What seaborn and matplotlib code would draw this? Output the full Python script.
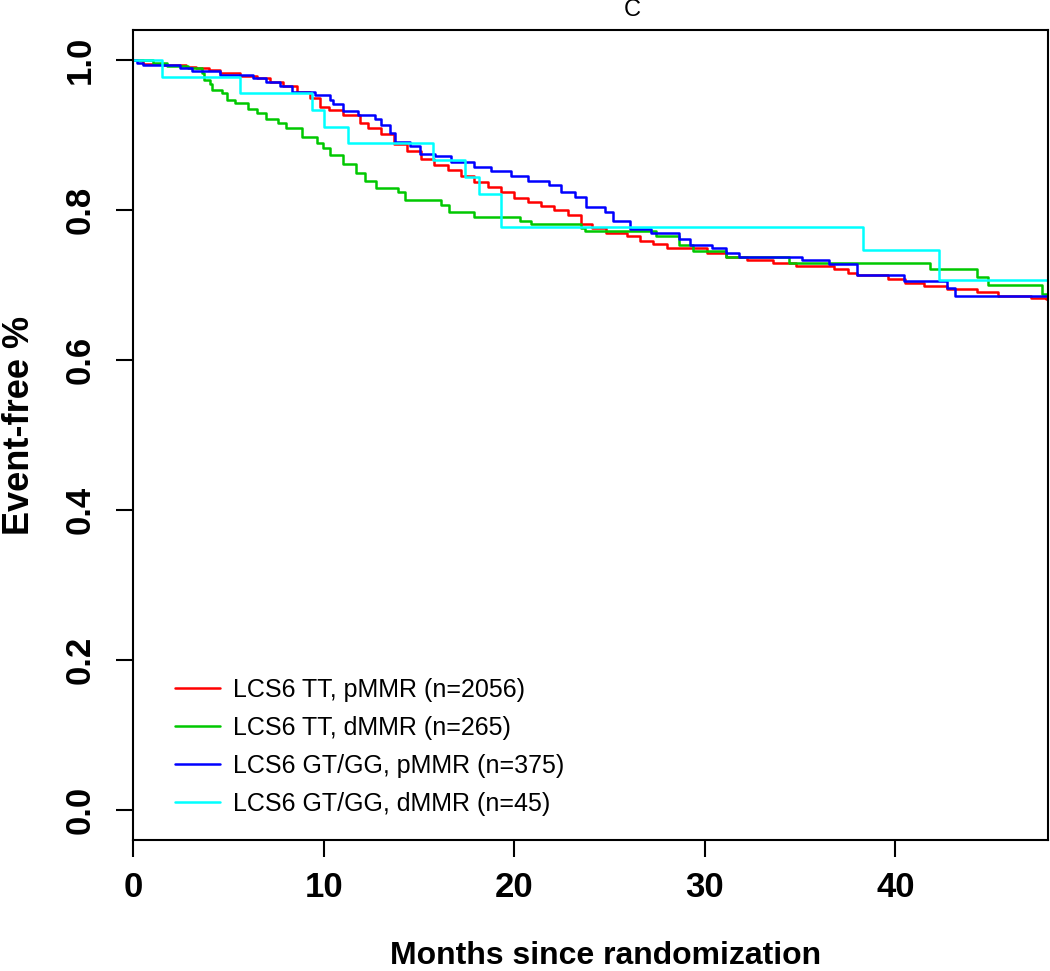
#! /usr/bin/env python3

import numpy as np
import pandas as pd
import seaborn as sns, matplotlib.pyplot as plt

sns.set_style("ticks")
plt.rcParams['font.family'] = ['Liberation Sans', 'DejaVu Sans']
plt.rcParams['text.color'] = 'black'
plt.rcParams['axes.labelcolor'] = 'black'

# step curves (months, fraction event-free)
red_t = [0, 0.54, 1.6, 2.8, 3.3, 4.0, 4.56, 5.6, 6.48, 7.18, 7.88, 8.58, 9.28, 9.8, 10.3,
         11.0, 11.9, 12.33, 13.0, 13.7, 14.4, 15.1, 15.8, 16.5, 17.2, 17.9, 18.6, 19.3,
         20.0, 20.7, 21.4, 22.1, 22.8, 23.5, 24.1, 24.8, 25.9, 26.6, 27.3, 28.0, 30.1,
         31.1, 32.2, 33.6, 34.8, 36.0, 36.8, 37.5, 38.0, 39.6, 40.5, 41.5, 42.7, 44.3,
         45.4, 47.1, 47.9, 48]
red_s = [1.0, 0.995, 0.993, 0.991, 0.989, 0.987, 0.983, 0.979, 0.976, 0.971, 0.965, 0.957,
         0.949, 0.938, 0.933, 0.927, 0.916, 0.910, 0.901, 0.888, 0.879, 0.868, 0.860, 0.854,
         0.846, 0.837, 0.831, 0.824, 0.816, 0.811, 0.806, 0.800, 0.793, 0.782, 0.776, 0.769,
         0.765, 0.759, 0.755, 0.750, 0.743, 0.738, 0.734, 0.729, 0.726, 0.725, 0.721, 0.716,
         0.713, 0.708, 0.703, 0.699, 0.695, 0.691, 0.686, 0.683, 0.681, 0.681]

green_t = [0, 1.05, 1.77, 2.9, 3.6, 3.72, 4.04, 4.12, 4.65, 4.91, 5.35, 6.04, 6.48, 7.0,
           7.62, 8.05, 8.84, 9.63, 9.97, 10.32, 11.02, 11.72, 12.16, 12.77, 13.9, 14.26,
           16.18, 16.6, 17.9, 20.28, 20.9, 23.5, 23.7, 27.45, 28.67, 29.37, 31.1, 34.4,
           41.8, 44.3, 44.86, 47.7, 48]
green_s = [1.0, 0.996, 0.992, 0.990, 0.983, 0.973, 0.968, 0.960, 0.956, 0.947, 0.943, 0.935,
           0.930, 0.921, 0.916, 0.909, 0.898, 0.889, 0.883, 0.873, 0.861, 0.850, 0.839, 0.830,
           0.824, 0.813, 0.807, 0.798, 0.791, 0.786, 0.781, 0.776, 0.7725, 0.765, 0.754,
           0.745, 0.737, 0.729, 0.721, 0.711, 0.700, 0.688, 0.688]

blue_t = [0, 0.19, 0.54, 2.46, 3.07, 4.56, 6.3, 7.0, 7.7, 8.32, 9.54, 10.32, 10.5, 11.0,
          11.8, 12.68, 13.0, 13.47, 13.73, 14.52, 15.04, 15.83, 16.7, 17.9, 18.8, 19.85,
          20.7, 21.8, 22.47, 23.17, 23.78, 24.74, 25.2, 26.05, 27.2, 28.67, 29.2, 30.4,
          31.1, 31.8, 35.1, 36.5, 38.0, 40.46, 42.7, 43.1, 48]
blue_s = [1.0, 0.9965, 0.993, 0.989, 0.985, 0.980, 0.976, 0.971, 0.966, 0.958, 0.954, 0.947,
          0.941, 0.932, 0.927, 0.921, 0.914, 0.903, 0.891, 0.886, 0.875, 0.872, 0.864, 0.858,
          0.852, 0.845, 0.839, 0.833, 0.824, 0.817, 0.804, 0.798, 0.785, 0.775, 0.770, 0.762,
          0.754, 0.749, 0.743, 0.737, 0.733, 0.728, 0.714, 0.705, 0.696, 0.685, 0.685]

cyan_t = [0, 1.53, 5.6, 9.38, 10.0, 11.3, 15.74, 17.4, 18.13, 19.32, 38.3, 42.3, 48]
cyan_s = [1.0, 0.978, 0.956, 0.933, 0.911, 0.889, 0.867, 0.844, 0.822, 0.778, 0.747, 0.707, 0.707]

labels = ["LCS6 TT, pMMR (n=2056)", "LCS6 TT, dMMR (n=265)",
          "LCS6 GT/GG, pMMR (n=375)", "LCS6 GT/GG, dMMR (n=45)"]
colors = ["#ff0000", "#00c800", "#0000ff", "#00ffff"]

curves = [(red_t, red_s), (green_t, green_s), (blue_t, blue_s), (cyan_t, cyan_s)]
df = pd.concat([pd.DataFrame({"month": t, "surv": s, "group": lab})
                for (t, s), lab in zip(curves, labels)], ignore_index=True)

fig, ax = plt.subplots(figsize=(10.5, 9.71), dpi=100)
fig.subplots_adjust(left=0.1267, right=0.998, bottom=0.1349, top=0.969)

sns.lineplot(data=df, x="month", y="surv", hue="group", hue_order=labels,
             palette=colors, estimator=None, sort=False, drawstyle="steps-post",
             linewidth=1.8, ax=ax)

ax.set_xlim(0, 48)
ax.set_ylim(-0.04, 1.04)
ax.set_xticks([0, 10, 20, 30, 40])
ax.set_yticks([0, 0.2, 0.4, 0.6, 0.8, 1.0])
ax.set_yticklabels(["0.0", "0.2", "0.4", "0.6", "0.8", "1.0"])
ax.tick_params(axis="both", length=12, width=1.5, labelsize=25, colors="black")
ax.tick_params(axis="x", pad=10)
ax.tick_params(axis="y", pad=14)
for lab in ax.get_xticklabels():
    lab.set_fontweight("bold")
for lab in ax.get_yticklabels():
    lab.set_fontweight("bold")
    lab.set_rotation(90)
    lab.set_va("center")

for sp in ax.spines.values():
    sp.set_visible(True)
    sp.set_color("black")
    sp.set_linewidth(1.5)

ax.set_xlabel("Months since randomization", fontsize=23, fontweight="bold")
ax.set_ylabel("Event-free %", fontsize=26, fontweight="bold")
ax.xaxis.set_label_coords(0.516, -0.125)
ax.yaxis.set_label_coords(-0.105, 0.512)

fig.text(632 / 1050, 1 - 10 / 971, "C", ha="center", va="center", fontsize=17)

leg = ax.legend(loc="lower left", bbox_to_anchor=(0.046, 0.03), frameon=False, fontsize=18,
                handlelength=1.8, handletextpad=0.5, labelspacing=0.56,
                borderpad=0, borderaxespad=0)
for txt in leg.get_texts():
    txt.set_color("black")

plt.savefig("out.png", dpi=100)
